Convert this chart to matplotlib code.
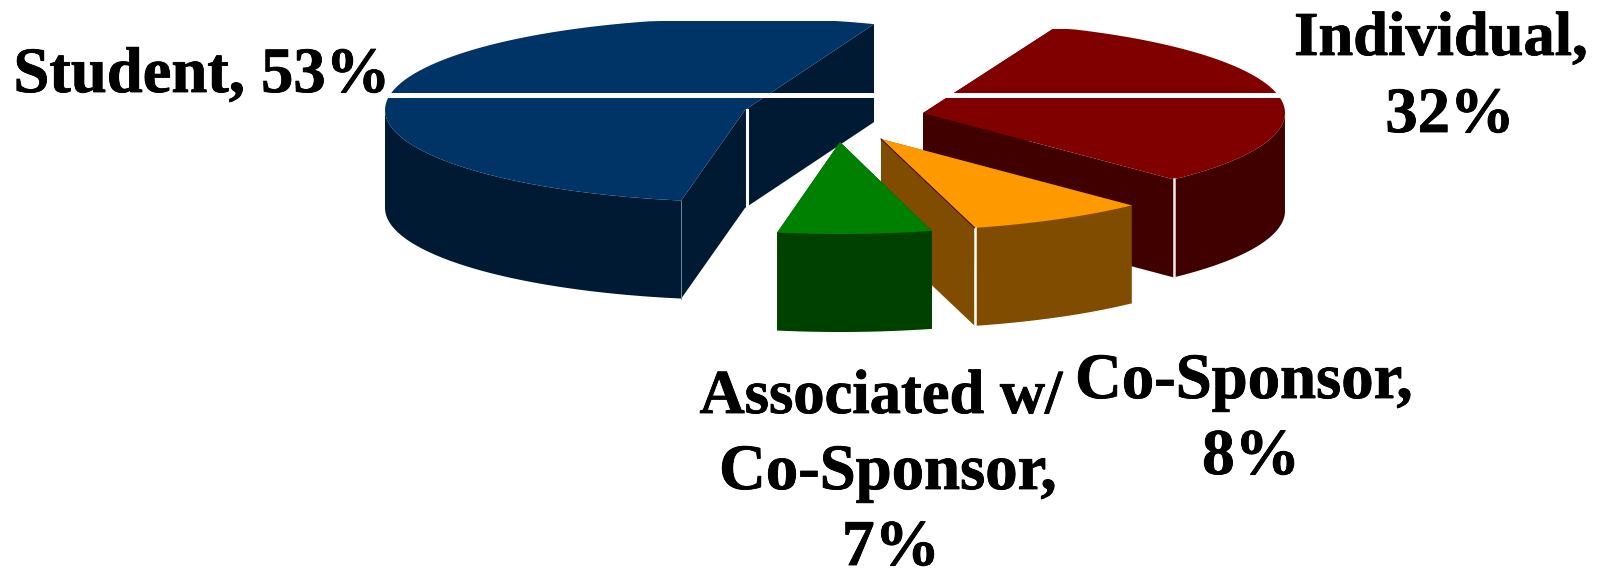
import numpy as np
import matplotlib
matplotlib.use('Agg')
import matplotlib.pyplot as plt
from matplotlib.patches import Polygon
import matplotlib.patheffects as pe

categories = ['Student', 'Associated', 'Co-Sponsor', 'Individual']
shares = [53, 7, 8, 32]
top_colors = ['#003366', '#008000', '#FF9900', '#800000']
side_colors = ['#001A33', '#004000', '#804D00', '#400000']

START_ANGLE = 69
B_RADIUS = 92
DEPTH = 98

# exploded slice layout in pixels: centre x, centre y, x radius, top clip y
slice_layout = {
    'Student': (745, 110, 360, 21),
    'Associated': (840, 142, 355, 0),
    'Co-Sponsor': (881, 139, 362, 0),
    'Individual': (923, 113, 362, 29),
}
draw_order = ['Student', 'Individual', 'Co-Sponsor', 'Associated']

# text, x, baseline y, font size
labels = [
    ('Student, 53%', 202, 92, 46.5),
    ('Individual,', 1441, 55, 45),
    ('32%', 1450, 132, 46.5),
    ('Co-Sponsor,', 1244, 398, 46.6),
    ('8%', 1251, 474, 47),
    ('Associated w/', 881, 413, 45),
    ('Co-Sponsor,', 888, 489, 46.6),
    ('7%', 891, 565, 47),
]


def slice_angles():
    angles = {}
    start = START_ANGLE
    for name, share in zip(categories, shares):
        span = share / sum(shares) * 360
        angles[name] = (start, start + span)
        start += span
    return angles


def draw_slice(ax, name, t0, t1, top_color, side_color, z):
    cx, cy, a, clip_y = slice_layout[name]
    t = np.radians(np.linspace(t0, t1, 90))
    x = cx + a * np.cos(t)
    y = cy - B_RADIUS * np.sin(t)

    # radial faces, far one first
    for i in sorted([0, -1], key=lambda k: y[k]):
        face = [(cx, cy), (x[i], max(y[i], clip_y)), (x[i], y[i] + DEPTH), (cx, cy + DEPTH)]
        ax.add_patch(Polygon(face, closed=True, fc=side_color, ec='none', zorder=z))

    # outer rim, only the front half shows
    front = np.sin(t) <= 0
    rim_x = np.r_[x[front], x[front][::-1]]
    rim_y = np.r_[y[front], y[front][::-1] + DEPTH]
    ax.add_patch(Polygon(np.c_[rim_x, rim_y], closed=True, fc=side_color, ec='none', zorder=z))

    top_x = np.r_[cx, x]
    top_y = np.maximum(np.r_[cy, y], clip_y)
    ax.add_patch(Polygon(np.c_[top_x, top_y], closed=True, fc=top_color, ec='none', zorder=z))
    return x, y


fig = plt.figure(figsize=(16, 5.69), dpi=100)
ax = fig.add_axes([0, 0, 1, 1])
ax.set_xlim(0, 1600)
ax.set_ylim(569, 0)
ax.axis('off')

angles = slice_angles()
colors = dict(zip(categories, zip(top_colors, side_colors)))
edges = {}
for n, name in enumerate(draw_order):
    t0, t1 = angles[name]
    edges[name] = draw_slice(ax, name, t0, t1, *colors[name], z=2 + n * 0.1)

# seams on the slice edges
sx, sy = edges['Student']
ax.plot([745 + 2, 745 + 2], [110, 110 + DEPTH - 2], color='white', lw=2.2, zorder=2.05)
ax.plot([sx[-1], sx[-1]], [sy[-1], sy[-1] + DEPTH], color='#8090A0', lw=0.6, zorder=2.05)
ix, iy = edges['Individual']
ax.plot([ix[0], ix[0]], [iy[0], iy[0] + DEPTH], color='#F0E8E8', lw=1.8, zorder=2.15)
cx_, cy_ = edges['Co-Sponsor']
ax.plot([cx_[0], cx_[0]], [cy_[0], cy_[0] + DEPTH], color='white', lw=1.8, zorder=2.25)
ax.plot([881, cx_[0]], [139, cy_[0]], color='#401000', lw=0.8, zorder=2.25)

# the white band across the two large slices
ax.fill_between([380, 1290], 93, 98, color='white', lw=0, zorder=2.5)

for text, x, y, size in labels:
    t = ax.text(x, y, text, ha='center', va='baseline', family='Liberation Serif',
                fontweight='bold', color='black', fontsize=size, zorder=3)
    t.set_path_effects([pe.withStroke(linewidth=0.6, foreground='black')])

fig.savefig('out.png', dpi=100)
